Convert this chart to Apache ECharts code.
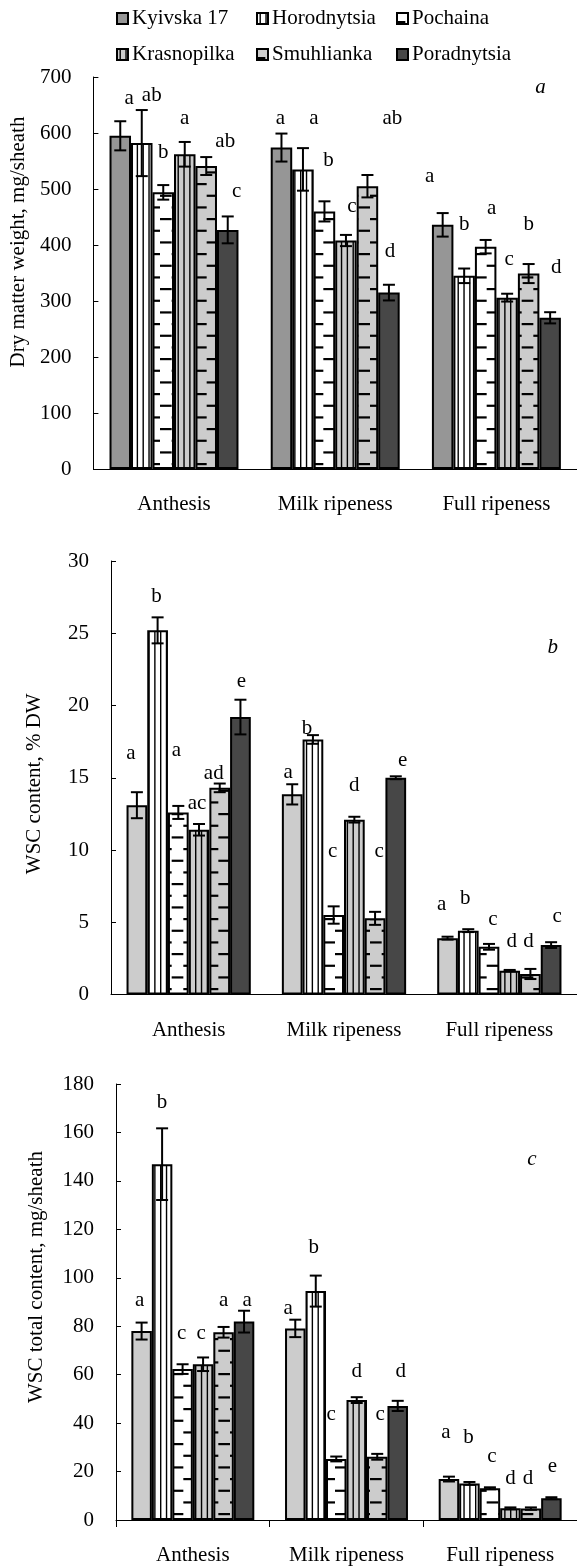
<!DOCTYPE html>
<html>
<head>
<meta charset="utf-8">
<script src="https://cdn.jsdelivr.net/npm/echarts@6/dist/echarts.min.js"></script>
<style>
  html, body { margin: 0; padding: 0; background: #fff; }
  #chart { width: 577px; height: 1566px; }
</style>
</head>
<body>
<div id="chart"></div>
<script>
// Growth stages (categories) and cultivars (series)
const stages = ['Anthesis', 'Milk ripeness', 'Full ripeness'];
const cultivars = ['Kyivska 17', 'Horodnytsia', 'Pochaina', 'Krasnopilka', 'Smuhlianka', 'Poradnytsia'];

// Panel a: dry matter weight, mg/sheath (rows: cultivars, columns: stages)
const dryMatter = [
  [595, 574, 436],
  [582, 535, 345],
  [494, 460, 397],
  [562, 408, 306],
  [541, 505, 349],
  [427, 315, 270]
];
const dryMatterErr = [
  [26, 25, 21],
  [59, 38, 13],
  [13, 18, 12],
  [22, 10, 7],
  [16, 20, 17],
  [24, 14, 10]
];
const dryMatterGroups = [
  ['a', 'a', 'a'],
  ['ab', 'a', 'b'],
  ['b', 'b', 'a'],
  ['a', 'c', 'c'],
  ['ab', 'ab', 'b'],
  ['c', 'd', 'd']
];

// Panel b: WSC content, % DW
const wscShare = [
  [13.1, 13.85, 3.9],
  [25.2, 17.65, 4.42],
  [12.6, 5.5, 3.3],
  [11.4, 12.1, 1.65],
  [14.3, 5.27, 1.42],
  [19.2, 15.0, 3.42]
];
const wscShareErr = [
  [0.9, 0.7, 0.1],
  [0.9, 0.3, 0.1],
  [0.45, 0.6, 0.2],
  [0.4, 0.2, 0.05],
  [0.3, 0.45, 0.35],
  [1.2, 0.1, 0.2]
];
const wscShareGroups = [
  ['a', 'a', 'a'],
  ['b', 'b', 'b'],
  ['a', 'c', 'c'],
  ['ac', 'd', 'd'],
  ['ad', 'c', 'd'],
  ['e', 'e', 'c']
];

// Panel c: WSC total content, mg/sheath
const wscTotal = [
  [78.0, 79.1, 16.9],
  [146.9, 94.5, 15.1],
  [62.3, 25.2, 13.1],
  [64.3, 49.5, 4.8],
  [77.5, 26.1, 4.7],
  [81.9, 47.1, 9.0]
];
const wscTotalErr = [
  [3.5, 3.6, 1.0],
  [14.8, 6.4, 0.6],
  [2.0, 1.0, 0.4],
  [2.8, 1.2, 0.4],
  [2.2, 1.2, 0.5],
  [4.5, 2.1, 0.4]
];
const wscTotalGroups = [
  ['a', 'a', 'a'],
  ['b', 'b', 'b'],
  ['c', 'c', 'c'],
  ['c', 'd', 'd'],
  ['a', 'c', 'd'],
  ['a', 'd', 'e']
];

// Where each significance letter sits: [x shift, height above the error cap] in px
const dryMatterLetterPos = [
  [[9, 23], [-1, 15], [-13, 37]],
  [[10, 15], [11, 30], [0, 44]],
  [[0, 33], [4, 41], [6, 31]],
  [[0, 23], [6, 28], [2, 34]],
  [[19, 16], [25, 57], [0, 40]],
  [[9, 25], [1, 33], [6, 45]]
];
const wscShareLetterPos = [
  [[-6, 39], [-4, 12], [-6, 32]],
  [[-1, 21], [-6, 7], [-3, 31]],
  [[-2, 55], [-1, 55], [4, 24]],
  [[-2, 21], [0, 31], [2, 28]],
  [[-6, 10], [4, 60], [-2, 27]],
  [[1, 18], [7, 16], [6, 26]]
];
const wscTotalLetterPos = [
  [[-2, 22], [-7, 11], [-3, 44]],
  [[0, 26], [-2, 28], [-1, 44]],
  [[-1, 31], [-5, 42], [2, 31]],
  [[-2, 24], [0, 26], [0, 29]],
  [[0, 26], [3, 39], [-3, 29]],
  [[3, 10], [3, 29], [1, 31]]
];

const FONT = '"Liberation Serif", "Times New Roman", serif';
const CAT_GAP = 0.2;

// ---- fill patterns ----
const TILE = 70;          // three pattern periods per tile
const PERIOD = TILE / 3;

function dashFill(bg) {
  const c = document.createElement('canvas');
  c.width = TILE; c.height = TILE;
  const g = c.getContext('2d');
  g.fillStyle = bg; g.fillRect(0, 0, TILE, TILE);
  g.fillStyle = '#000';
  const half = PERIOD / 2;
  for (let m = 0; m < 3; m++) {
    for (let k = 0; k < 3; k++) {
      const rows = [[9 + m * PERIOD, 20 + k * PERIOD], [9 + half + m * PERIOD, 20 + half + k * PERIOD]];
      rows.forEach(([y, x]) => {
        [x, x - TILE].forEach(xx => g.fillRect(xx, y - 1, half, 2.2));
      });
    }
  }
  return { image: c, repeat: 'repeat' };
}

function stripeFill(bg) {
  const c = document.createElement('canvas');
  c.width = TILE; c.height = 10;
  const g = c.getContext('2d');
  g.fillStyle = bg; g.fillRect(0, 0, TILE, 10);
  g.fillStyle = '#000';
  const step = TILE / 12;
  for (let k = 0; k < 12; k++) g.fillRect(2.5 + k * step, 0, 1.4, 10);
  return { image: c, repeat: 'repeat' };
}

const MID_GREY = '#969696';
const LIGHT_GREY = '#cccccc';
const DARK_GREY = '#474747';

function fills(firstColor) {
  return [
    firstColor,
    stripeFill('#ffffff'),
    dashFill('#ffffff'),
    stripeFill(LIGHT_GREY),
    dashFill(LIGHT_GREY),
    DARK_GREY
  ];
}

const panels = [
  { means: dryMatter, errs: dryMatterErr, letters: dryMatterGroups, pos: dryMatterLetterPos,
    fill: fills(MID_GREY), grid: { left: 93, top: 77, width: 488, height: 392 },
    y: { min: 0, max: 700, interval: 100 }, name: 'Dry matter weight, mg/sheath',
    nameGap: 60, namePad: [0, 0, 0, 62], xTicks: false },
  { means: wscShare, errs: wscShareErr, letters: wscShareGroups, pos: wscShareLetterPos,
    fill: fills(LIGHT_GREY), grid: { left: 111, top: 561, width: 467, height: 433.5 },
    y: { min: 0, max: 30, interval: 5 }, name: 'WSC content, % DW',
    nameGap: 66, namePad: [0, 12, 0, 0], xTicks: false },
  { means: wscTotal, errs: wscTotalErr, letters: wscTotalGroups, pos: wscTotalLetterPos,
    fill: fills(LIGHT_GREY), grid: { left: 116, top: 1084, width: 465, height: 436 },
    y: { min: 0, max: 180, interval: 20 }, name: 'WSC total content, mg/sheath',
    nameGap: 69, namePad: [0, 0, 0, 50], xTicks: true }
];

const axisText = { color: '#000', fontFamily: FONT, fontSize: 21 };

function errorLayer(p, idx) {
  const rows = [];
  cultivars.forEach((_, ci) => stages.forEach((_, si) => {
    const m = p.means[ci][si], e = p.errs[ci][si];
    rows.push([si, m + e, m - e, ci]);
  }));
  return {
    type: 'custom',
    xAxisIndex: idx, yAxisIndex: idx,
    z: 5, silent: true,
    encode: { x: 0, y: [1, 2] },
    data: rows,
    renderItem(params, api) {
      const si = api.value(0), hi = api.value(1), lo = api.value(2), ci = api.value(3);
      const band = api.size([1, 0])[0];
      const groupW = band * (1 - CAT_GAP);
      const w = groupW / cultivars.length;
      const cx = api.coord([si, 0])[0] - groupW / 2 + w * (ci + 0.5);
      const yTop = api.coord([si, hi])[1];
      const yBot = api.coord([si, lo])[1];
      const [dx, lift] = p.pos[ci][si];
      const line = { stroke: '#000', lineWidth: 2 };
      return {
        type: 'group',
        children: [
          { type: 'line', shape: { x1: cx, y1: yTop, x2: cx, y2: yBot }, style: line },
          { type: 'line', shape: { x1: cx - 6, y1: yTop, x2: cx + 6, y2: yTop }, style: line },
          { type: 'line', shape: { x1: cx - 6, y1: yBot, x2: cx + 6, y2: yBot }, style: line },
          { type: 'text', x: cx + dx, y: yTop - lift,
            style: { text: p.letters[ci][si], font: '21px ' + FONT, fill: '#000',
                     align: 'center', verticalAlign: 'middle' } }
        ]
      };
    }
  };
}

const grids = [], xAxes = [], yAxes = [], series = [];
panels.forEach((p, idx) => {
  grids.push(p.grid);
  xAxes.push({
    type: 'category', gridIndex: idx, data: stages,
    axisLine: { show: true, lineStyle: { color: '#000', width: 1 } },
    axisTick: { show: p.xTicks, length: 7, lineStyle: { color: '#000' } },
    axisLabel: Object.assign({ margin: 25, interval: 0 }, axisText),
    splitLine: { show: false }
  });
  yAxes.push({
    type: 'value', gridIndex: idx,
    min: p.y.min, max: p.y.max, interval: p.y.interval,
    name: p.name, nameLocation: 'middle', nameGap: p.nameGap,
    nameTextStyle: Object.assign({ padding: p.namePad }, axisText),
    axisLine: { show: true, lineStyle: { color: '#000', width: 1 } },
    axisTick: { show: true, inside: true, length: 5, lineStyle: { color: '#000' } },
    axisLabel: Object.assign({ margin: 22 }, axisText),
    splitLine: { show: false }
  });
  cultivars.forEach((name, ci) => {
    series.push({
      type: 'bar', name, xAxisIndex: idx, yAxisIndex: idx,
      data: p.means[ci],
      barGap: '0%', barCategoryGap: (CAT_GAP * 100) + '%',
      itemStyle: { color: p.fill[ci], borderColor: '#000', borderWidth: 2 },
      silent: true, z: 2
    });
  });
  series.push(errorLayer(p, idx));
});

// Legend: two rows of three, each entry placed on its own column
const legendCols = [116, 256, 396];
const legendRows = [8, 44];
const legends = cultivars.map((name, i) => ({
  data: [name],
  left: legendCols[i % 3],
  top: legendRows[Math.floor(i / 3)],
  padding: 0,
  icon: 'rect',
  itemWidth: 11, itemHeight: 11,
  itemStyle: { borderColor: '#000', borderWidth: 2 },
  selectedMode: false,
  textStyle: { color: '#000', fontFamily: FONT, fontSize: 21, padding: [0, 0, 0, -1] }
}));

const panelTags = [['a', 540.5, 87], ['b', 552.7, 647], ['c', 532, 1159]];

const chart = echarts.init(document.getElementById('chart'), null, { renderer: 'canvas' });
chart.setOption({
  animation: false,
  backgroundColor: '#fff',
  legend: legends,
  grid: grids,
  xAxis: xAxes,
  yAxis: yAxes,
  series,
  graphic: panelTags.map(([t, x, y]) => ({
    type: 'text', x, y, silent: true,
    style: { text: t, font: 'italic 21px ' + FONT, fill: '#000', align: 'center', verticalAlign: 'middle' }
  }))
});
</script>
</body>
</html>
